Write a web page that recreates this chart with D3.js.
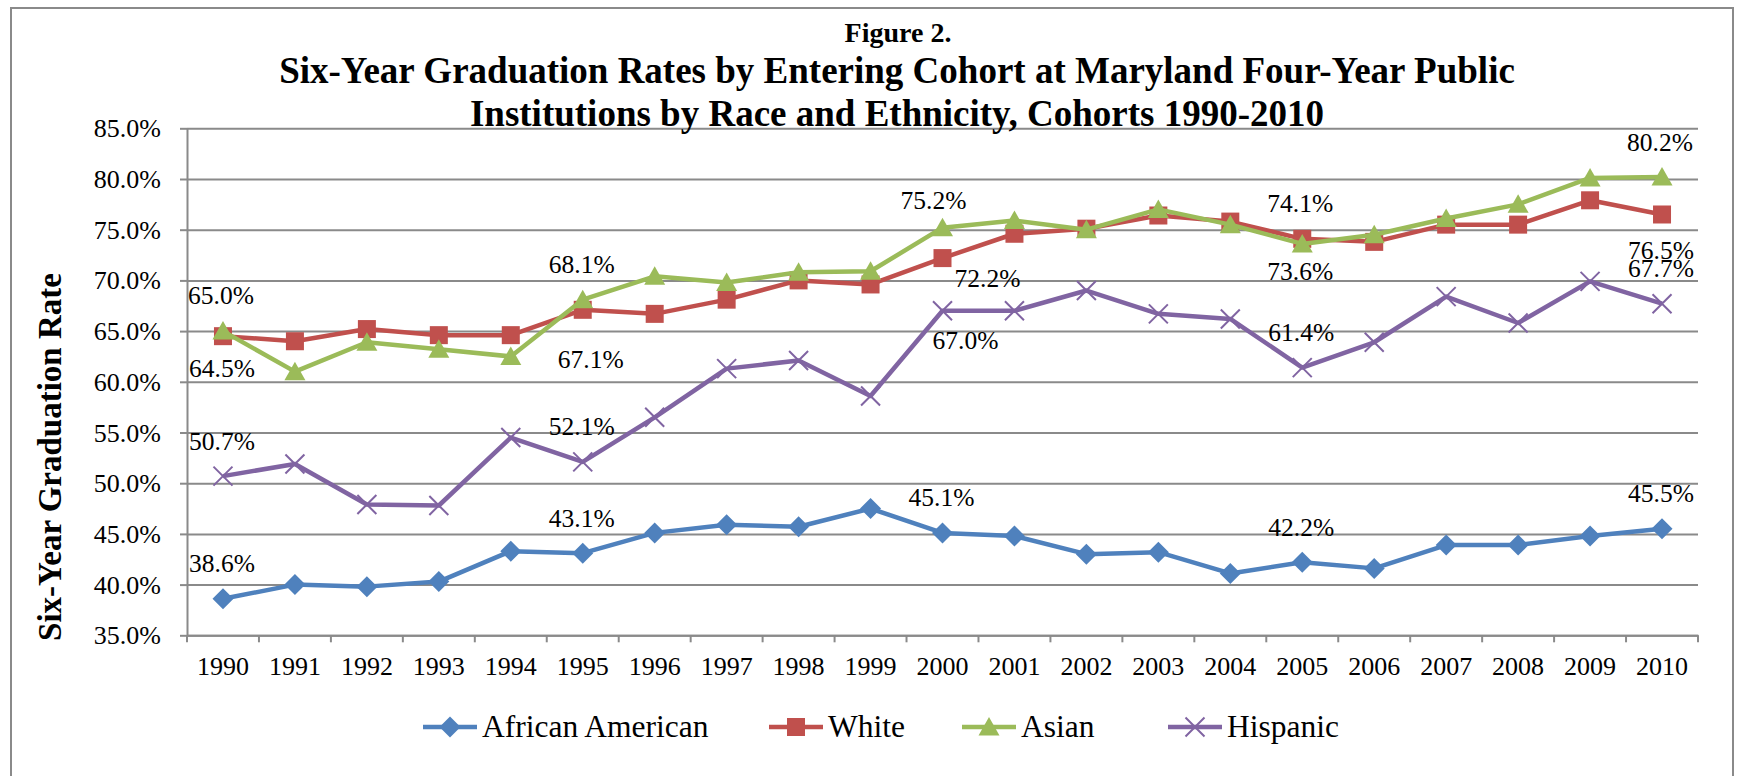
<!DOCTYPE html>
<html>
<head>
<meta charset="utf-8">
<script src="https://cdn.jsdelivr.net/npm/d3@7"></script>
<style>
  body { margin: 0; background: #fff; }
</style>
</head>
<body>
<div id="plot"></div>
<script>
    const years = ["1990", "1991", "1992", "1993", "1994", "1995", "1996", "1997", "1998", "1999", "2000",
                   "2001", "2002", "2003", "2004", "2005", "2006", "2007", "2008", "2009", "2010"];
    const africanAmerican = [38.6, 40.0, 39.8, 40.3, 43.3, 43.1, 45.1, 45.9, 45.7, 47.5, 45.1,
                             44.8, 43.0, 43.2, 41.1, 42.2, 41.6, 43.9, 43.9, 44.8, 45.5];
    const white = [64.5, 64.0, 65.2, 64.6, 64.6, 67.1, 66.7, 68.1, 70.0, 69.6, 72.2,
                   74.6, 75.1, 76.4, 75.8, 74.1, 73.8, 75.5, 75.5, 77.9, 76.5];
    const asian = [65.0, 61.0, 63.9, 63.2, 62.5, 68.1, 70.4, 69.8, 70.8, 70.9, 75.2,
                   75.9, 75.0, 77.0, 75.5, 73.6, 74.5, 76.1, 77.5, 80.1, 80.2];
    const hispanic = [50.7, 51.9, 47.9, 47.8, 54.5, 52.1, 56.5, 61.3, 62.1, 58.6, 67.0,
                      67.0, 69.0, 66.7, 66.2, 61.4, 63.9, 68.4, 65.8, 69.9, 67.7];
    const yTicks = [35, 40, 45, 50, 55, 60, 65, 70, 75, 80, 85];
    const labeledYears = ["1990", "1995", "2000", "2005", "2010"];

    const series = [
      { name: "African American", values: africanAmerican, color: "#4f81bd", marker: "diamond" },
      { name: "White", values: white, color: "#c0504d", marker: "square" },
      { name: "Asian", values: asian, color: "#9bbb59", marker: "triangle" },
      { name: "Hispanic", values: hispanic, color: "#8064a2", marker: "cross" },
    ];

    const FONT = '"Liberation Serif", "Times New Roman", serif';

    // data label offsets (label centre relative to the point), default above
    const labelShift = {
      "African American": {},
      "White": { "1990": [-1, 32], "1995": [8, 50], "2000": [45, 20], "2005": [-2, -35], "2010": [-1, 36] },
      "Asian": { "1990": [-2, -36], "2000": [-9, -27], "2005": [-2, 28], "2010": [-2, -34] },
      "Hispanic": { "2000": [23, 30] },
    };

    const svg = d3.select("div#plot")
      .append("svg")
        .attr("width", 1740)
        .attr("height", 776);

    svg.append("rect")
      .attr("x", 11)
      .attr("y", 8)
      .attr("width", 1722)
      .attr("height", 800)
      .attr("fill", "none")
      .attr("stroke", "#8a8a8a")
      .attr("stroke-width", 2);

    const xScale = d3.scaleBand()
      .domain(years)
      .range([187, 1698]);

    const yScale = d3.scaleLinear()
      .domain([35, 85])
      .range([635.3, 128.3]);

    const cx = d => xScale(d) + xScale.bandwidth() / 2;

    // gridlines
    svg.append("g")
      .attr("transform", "translate(187, 0)")
      .call(d3.axisLeft(yScale).tickValues(yTicks).tickSize(-1511).tickFormat(""))
      .call(g => g.select(".domain").remove())
      .call(g => g.selectAll("line").attr("stroke", "#8a8a8a").attr("stroke-width", 2));

    // y axis
    svg.append("g")
      .attr("transform", "translate(187, 0)")
      .call(d3.axisLeft(yScale).tickValues(yTicks).tickSize(7).tickSizeOuter(0).tickPadding(19)
        .tickFormat(d => d3.format(".1f")(d) + "%"))
      .call(g => g.select(".domain").attr("stroke", "#8a8a8a").attr("stroke-width", 2))
      .call(g => g.selectAll("line").attr("stroke", "#8a8a8a").attr("stroke-width", 2))
      .call(g => g.selectAll("text").style("font-size", "26px").attr("dy", "0.33em"));

    // x axis
    const xAxisG = svg.append("g")
      .attr("transform", "translate(0, 635.3)")
      .call(d3.axisBottom(xScale).tickSize(0).tickSizeOuter(0).tickPadding(21))
      .call(g => g.select(".domain").attr("stroke", "#8a8a8a").attr("stroke-width", 2))
      .call(g => g.selectAll("text").style("font-size", "26px"));

    xAxisG.selectAll(".cat-tick")
      .data(years.concat(["end"]))
      .enter()
      .append("line")
        .attr("class", "cat-tick")
        .attr("x1", d => d === "end" ? xScale.range()[1] : xScale(d))
        .attr("x2", d => d === "end" ? xScale.range()[1] : xScale(d))
        .attr("y1", 0)
        .attr("y2", 7)
        .attr("stroke", "#8a8a8a")
        .attr("stroke-width", 2);

    // titles
    svg.append("text")
      .attr("x", 898)
      .attr("y", 41.7)
      .attr("text-anchor", "middle")
      .style("font-size", "28px")
      .style("font-weight", "bold")
      .text("Figure 2.");

    svg.append("text")
      .attr("x", 897)
      .attr("y", 82.7)
      .attr("text-anchor", "middle")
      .style("font-size", "37px")
      .style("font-weight", "bold")
      .text("Six-Year Graduation Rates by Entering Cohort at Maryland Four-Year Public");

    svg.append("text")
      .attr("x", 897)
      .attr("y", 126)
      .attr("text-anchor", "middle")
      .style("font-size", "37px")
      .style("font-weight", "bold")
      .text("Institutions by Race and Ethnicity, Cohorts 1990-2010");

    svg.append("text")
      .attr("transform", "translate(61, 457) rotate(-90)")
      .attr("text-anchor", "middle")
      .style("font-size", "33px")
      .style("font-weight", "bold")
      .text("Six-Year Graduation Rate");

    function drawMarker(g, type, color) {
      if (type === "diamond") {
        g.append("path").attr("d", "M0,-10.5L10.5,0L0,10.5L-10.5,0Z").attr("fill", color);
      } else if (type === "square") {
        g.append("rect").attr("x", -9).attr("y", -9).attr("width", 18).attr("height", 18).attr("fill", color);
      } else if (type === "triangle") {
        g.append("path").attr("d", "M0,-10L10.5,8.5L-10.5,8.5Z").attr("fill", color);
      } else {
        g.append("path").attr("d", "M-9.5,-9.5L9.5,9.5M-9.5,9.5L9.5,-9.5")
          .attr("stroke", color).attr("stroke-width", 2).attr("fill", "none");
      }
    }

    const line = d3.line()
      .x((d, i) => cx(years[i]))
      .y(d => yScale(d));

    series.forEach(s => {
      svg.append("path")
        .datum(s.values)
        .attr("fill", "none")
        .attr("stroke", s.color)
        .attr("stroke-width", 4.5)
        .attr("stroke-linejoin", "round")
        .attr("d", line);

      svg.selectAll(null)
        .data(s.values)
        .enter()
        .append("g")
          .attr("transform", (d, i) => `translate(${cx(years[i])}, ${yScale(d)})`)
          .each(function () { drawMarker(d3.select(this), s.marker, s.color); });
    });

    // data labels
    series.forEach(s => {
      labeledYears.forEach(yr => {
        const i = years.indexOf(yr);
        const shift = labelShift[s.name][yr] || [-1, -35];
        svg.append("text")
          .attr("x", cx(yr) + shift[0])
          .attr("y", yScale(s.values[i]) + shift[1])
          .attr("dy", "0.33em")
          .attr("text-anchor", "middle")
          .style("font-size", "25.5px")
          .text(d3.format(".1f")(s.values[i]) + "%");
      });
    });

    // legend
    const legendX = [423, 769, 962, 1168];
    const key = svg.append("g")
      .attr("transform", "translate(0, 727)");

    series.forEach((s, i) => {
      const item = key.append("g").attr("transform", `translate(${legendX[i]}, 0)`);
      item.append("line")
        .attr("x1", 0)
        .attr("x2", 54)
        .attr("stroke", s.color)
        .attr("stroke-width", 4.5);
      const m = item.append("g").attr("transform", "translate(27, 0)");
      drawMarker(m, s.marker, s.color);
      item.append("text")
        .attr("x", 59)
        .attr("dy", "0.33em")
        .style("font-size", "31.5px")
        .text(s.name);
    });

    svg.selectAll("text")
      .style("font-family", FONT)
      .attr("fill", "#000");
</script>
</body>
</html>
